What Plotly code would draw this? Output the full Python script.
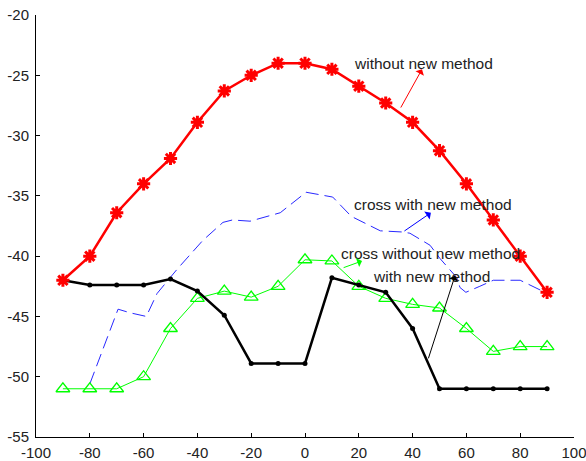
import plotly.graph_objects as go

angles = [-90, -80, -70, -60, -50, -40, -30, -20, -10, 0, 10, 20, 30, 40, 50, 60, 70, 80, 90]
without_new = [-42.0, -40.0, -36.4, -34.0, -31.9, -28.9, -26.3, -25.0, -24.0, -24.0,
               -24.5, -25.9, -27.3, -28.9, -31.25, -34.0, -37.0, -40.0, -43.0]
with_new = [-42.0, -42.4, -42.4, -42.4, -41.9, -42.9, -44.9, -48.9, -48.9, -48.9,
            -41.8, -42.4, -43.0, -46.0, -51.0, -51.0, -51.0, -51.0, -51.0]
cross_without = [-51.0, -51.0, -51.0, -50.0, -46.0, -43.5, -42.9, -43.4, -42.5, -40.3,
                 -40.4, -42.5, -43.5, -44.0, -44.3, -46.0, -47.9, -47.5, -47.5]
cross_with_x = [-80, -69.5, -65, -59, -55, -47.6, -38, -30.5, -27, -20.4, -9.2, 0.4, 10.3,
                17.2, 28, 36.4, 39, 46.5, 50.2, 56.5, 57.6, 59.8, 65, 70, 80, 89.2]
cross_with_y = [-50.6, -44.4, -44.7, -45.0, -43.1, -41.1, -38.7, -37.2, -37.0, -37.1, -36.4,
                -34.7, -35.1, -36.7, -37.9, -38.0, -38.1, -39.1, -40.2, -41.8, -42.6, -43.0,
                -42.5, -42.0, -42.0, -43.0]

labels = ["without new method", "cross with new method", "cross without new method", "with new method"]
label_x = [44.1, 47.4, 46.5, 46.9]
label_y = [-24.0, -35.75, -39.75, -41.7]
arrow_tip_x = [43.5, 46.8, 21.2, 55.8]
arrow_tip_y = [-24.5, -36.4, -40.4, -41.6]
arrow_tail_x = [35.3, 36.4, 13.8, 45.7]
arrow_tail_y = [-27.8, -38.0, -41.0, -48.6]
arrow_colors = ["red", "blue", "#00ff00", "black"]

x_ticks = list(range(-100, 101, 20))
x_tick_text = [str(v) for v in x_ticks]
y_ticks = list(range(-55, -19, 5))
y_tick_text = [str(v) for v in y_ticks]

fig = go.Figure()
fig.add_trace(go.Scatter(x=cross_with_x, y=cross_with_y, mode="lines",
                         line=dict(color="#2828ff", width=1, dash="13px,6px")))
fig.add_trace(go.Scatter(x=angles, y=cross_without, mode="lines+markers",
                         line=dict(color="#00ff00", width=1),
                         marker=dict(symbol="triangle-up-open", size=12, color="#00ff00",
                                     line=dict(color="#00ff00", width=1.3))))
fig.add_trace(go.Scatter(x=angles, y=with_new, mode="lines+markers",
                         line=dict(color="black", width=2.5),
                         marker=dict(symbol="circle", size=5, color="black")))
fig.add_trace(go.Scatter(x=angles, y=without_new, mode="lines+markers",
                         line=dict(color="red", width=2.5),
                         marker=dict(symbol="asterisk-open", size=11, color="red",
                                     line=dict(color="red", width=3))))

for i, t in enumerate(labels):
    fig.add_annotation(x=label_x[i], y=label_y[i], text=t, showarrow=False,
                       xref="x", yref="y", xanchor="center", yanchor="middle",
                       font=dict(family="Liberation Sans, Arial", size=15.5, color="#222"))
    fig.add_annotation(x=arrow_tip_x[i], y=arrow_tip_y[i], ax=arrow_tail_x[i], ay=arrow_tail_y[i],
                       xref="x", yref="y", axref="x", ayref="y", text="", showarrow=True,
                       arrowhead=1, arrowsize=1.6, arrowwidth=1, arrowcolor=arrow_colors[i])

fig.update_layout(
    width=586, height=461,
    margin=dict(l=36, r=12, t=15, b=24),
    paper_bgcolor="white", plot_bgcolor="white",
    showlegend=False,
    font=dict(family="Liberation Sans, Arial", size=15, color="#222"),
)
fig.update_xaxes(range=[-100, 100], tickvals=x_ticks, ticktext=x_tick_text,
                 ticks="inside", ticklen=4, automargin=False, ticklabelstandoff=2,
                 ticklabeloverflow="allow",
                 showline=True, linecolor="black", linewidth=1, showgrid=False,
                 zeroline=False, tickcolor="black", tickfont=dict(size=15))
fig.update_yaxes(range=[-55, -20], tickvals=y_ticks, ticktext=y_tick_text,
                 ticks="inside", ticklen=4, automargin=False, ticklabelstandoff=3,
                 ticklabeloverflow="allow",
                 showline=True, linecolor="black", linewidth=1, showgrid=False,
                 zeroline=False, tickcolor="black", tickfont=dict(size=15))

fig.write_html("out.html")
